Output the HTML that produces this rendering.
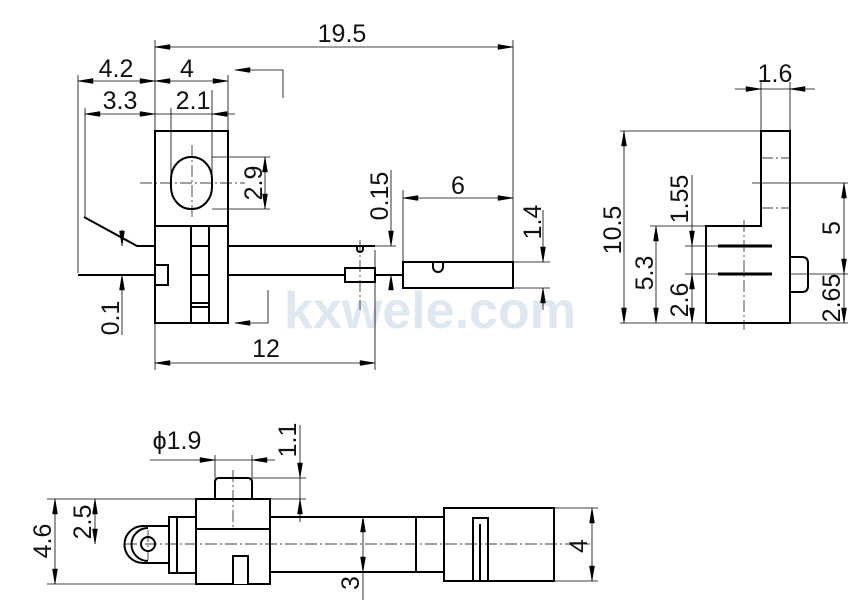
<!DOCTYPE html>
<html><head><meta charset="utf-8"><style>
html,body{margin:0;padding:0;background:#fff}
svg{display:block}
text{font-family:"Liberation Sans",sans-serif;font-size:25px;fill:#111}
</style></head><body>
<svg width="868" height="615" viewBox="0 0 868 615" xmlns="http://www.w3.org/2000/svg">
<text x="430" y="328" text-anchor="middle" style="font-size:52px;fill:#dfe7f1;font-weight:bold">kxwele.com</text>
<g stroke="#000" fill="none" stroke-width="0.8">
<line x1="155" y1="40" x2="155" y2="370"/>
<line x1="513" y1="40" x2="513" y2="262"/>
<line x1="78" y1="75" x2="78" y2="273"/>
<line x1="85" y1="108" x2="85" y2="217"/>
<line x1="228" y1="75" x2="228" y2="131"/>
<line x1="171" y1="108" x2="171" y2="183"/>
<line x1="212" y1="90" x2="212" y2="183"/>
<line x1="375" y1="250" x2="375" y2="370"/>
<line x1="155" y1="47" x2="513" y2="47"/>
<line x1="78" y1="81" x2="228" y2="81"/>
<line x1="85" y1="114" x2="235" y2="114"/>
<polyline points="283,98 283,70 235,70"/>
<polyline points="268,290 268,323 235,323"/>
<line x1="212" y1="157" x2="270" y2="157"/>
<line x1="212" y1="209" x2="270" y2="209"/>
<line x1="265" y1="157" x2="265" y2="209"/>
<line x1="122" y1="230" x2="122" y2="246"/>
<line x1="122" y1="335" x2="122" y2="275"/>
<line x1="155" y1="363" x2="375" y2="363"/>
<line x1="375" y1="246" x2="396" y2="246"/>
<line x1="391" y1="170" x2="391" y2="246"/>
<line x1="391" y1="290" x2="391" y2="275"/>
<line x1="403" y1="190" x2="403" y2="262"/>
<line x1="403" y1="198" x2="513" y2="198"/>
<line x1="513" y1="262" x2="550" y2="262"/>
<line x1="513" y1="288" x2="550" y2="288"/>
<line x1="543" y1="210" x2="543" y2="262"/>
<line x1="543" y1="310" x2="543" y2="288"/>
<line x1="752" y1="183" x2="848" y2="183"/>
<line x1="790" y1="274" x2="848" y2="274"/>
<line x1="761" y1="82" x2="761" y2="131"/>
<line x1="790" y1="82" x2="790" y2="131"/>
<line x1="735" y1="89" x2="815" y2="89"/>
<line x1="620" y1="131" x2="761" y2="131"/>
<line x1="620" y1="323" x2="706" y2="323"/>
<line x1="650" y1="226" x2="706" y2="226"/>
<line x1="685" y1="246" x2="718" y2="246"/>
<line x1="685" y1="274" x2="718" y2="274"/>
<line x1="790" y1="323" x2="848" y2="323"/>
<line x1="624" y1="131" x2="624" y2="323"/>
<line x1="656" y1="226" x2="656" y2="323"/>
<line x1="692" y1="175" x2="692" y2="323"/>
<line x1="844" y1="183" x2="844" y2="323"/>
<line x1="47" y1="499" x2="196" y2="499"/>
<line x1="47" y1="584" x2="196" y2="584"/>
<line x1="215" y1="455" x2="215" y2="478"/>
<line x1="252" y1="455" x2="252" y2="478"/>
<line x1="150" y1="460" x2="275" y2="460"/>
<line x1="252" y1="478" x2="306" y2="478"/>
<line x1="270" y1="499" x2="306" y2="499"/>
<line x1="300" y1="425" x2="300" y2="522"/>
<line x1="95" y1="499" x2="95" y2="544"/>
<line x1="55" y1="499" x2="55" y2="584"/>
<line x1="363" y1="600" x2="363" y2="517"/>
<line x1="554" y1="508" x2="598" y2="508"/>
<line x1="554" y1="581" x2="598" y2="581"/>
<line x1="592" y1="508" x2="592" y2="581"/>
</g>
<g stroke="#000" fill="none" stroke-width="2">
<rect x="155" y="131" width="73" height="192"/>
<line x1="155" y1="226" x2="228" y2="226"/>
<line x1="191" y1="226" x2="191" y2="323"/>
<line x1="209" y1="226" x2="209" y2="323"/>
<rect x="171" y="157" width="41" height="52" rx="20" ry="22"/>
<line x1="191" y1="246" x2="209" y2="246"/>
<line x1="191" y1="275" x2="209" y2="275"/>
<line x1="191" y1="303" x2="209" y2="303"/>
<line x1="191" y1="307" x2="209" y2="307"/>
<polyline points="84,217 137,246 155,246"/>
<line x1="228" y1="246" x2="375" y2="246"/>
<line x1="78" y1="275" x2="155" y2="275"/>
<line x1="228" y1="275" x2="345" y2="275"/>
<path d="M155,265 H168 V285 H155"/>
<rect x="345" y="268" width="30" height="14"/>
<line x1="375" y1="275" x2="403" y2="275"/>
<rect x="403" y="262" width="110" height="26"/>
<path d="M433,262 v5 a5,5 0 0 0 10,0 v-5"/>
<path d="M357,246 v3 a3,3 0 0 0 6,0 v-3"/>
<path d="M761,131 H790 V323 H706 V226 H761 Z"/>
<line x1="718" y1="246" x2="772" y2="246" stroke-width="3"/>
<line x1="718" y1="274" x2="772" y2="274" stroke-width="3"/>
<path d="M790,257 H802 Q808,257 808,263 V286 Q808,292 802,292 H790"/>
<rect x="196" y="499" width="74" height="85"/>
<line x1="196" y1="529" x2="270" y2="529"/>
<path d="M233,584 V556 H248 V584" fill="#fff"/>
<path d="M215,499 V482 Q215,478 219,478 H248 Q252,478 252,482 V499"/>
<rect x="169" y="517" width="27" height="56"/>
<line x1="177" y1="517" x2="177" y2="573"/>
<line x1="143" y1="526" x2="169" y2="526"/>
<line x1="143" y1="563" x2="169" y2="563"/>
<path d="M143,526 A18,18 0 0 0 143,563"/>
<path d="M148,528 A16,16 0 0 0 148,561"/>
<circle cx="148" cy="544" r="7"/>
<line x1="270" y1="517" x2="444" y2="517"/>
<line x1="270" y1="572" x2="444" y2="572"/>
<line x1="416" y1="517" x2="416" y2="572"/>
<rect x="444" y="508" width="110" height="73"/>
<path d="M473,581 V518 H488 V581"/>
<line x1="480" y1="524" x2="480" y2="581"/>
</g>
<g stroke="#000" fill="none" stroke-dasharray="12,3,2,3" stroke-width="0.7">
<line x1="140" y1="183" x2="245" y2="183"/>
<line x1="192" y1="145" x2="192" y2="220"/>
<line x1="360" y1="240" x2="360" y2="310"/>
<line x1="761" y1="158" x2="790" y2="158"/>
<line x1="761" y1="208" x2="790" y2="208"/>
<line x1="744" y1="220" x2="744" y2="330"/>
<line x1="125" y1="544" x2="590" y2="544"/>
<line x1="233" y1="470" x2="233" y2="529"/>
<line x1="148" y1="530" x2="148" y2="560"/>
</g>
<g fill="#000" stroke="#000" stroke-width="0.5">
<polygon points="155,47 170,44.5 170,49.5"/>
<polygon points="513,47 498,44.5 498,49.5"/>
<polygon points="78,81 93,78.5 93,83.5"/>
<polygon points="155,81 140,78.5 140,83.5"/>
<polygon points="155,81 170,78.5 170,83.5"/>
<polygon points="228,81 213,78.5 213,83.5"/>
<polygon points="85,114 100,111.5 100,116.5"/>
<polygon points="155,114 140,111.5 140,116.5"/>
<polygon points="212,114 227,111.5 227,116.5"/>
<polygon points="235,70 250,67.5 250,72.5"/>
<polygon points="235,323 250,320.5 250,325.5"/>
<polygon points="265,157 262.5,172 267.5,172"/>
<polygon points="265,209 262.5,194 267.5,194"/>
<polygon points="122,246 119.5,231 124.5,231"/>
<polygon points="122,275 119.5,290 124.5,290"/>
<polygon points="155,363 170,360.5 170,365.5"/>
<polygon points="375,363 360,360.5 360,365.5"/>
<polygon points="391,246 388.5,231 393.5,231"/>
<polygon points="391,275 388.5,290 393.5,290"/>
<polygon points="403,198 418,195.5 418,200.5"/>
<polygon points="513,198 498,195.5 498,200.5"/>
<polygon points="543,262 540.5,247 545.5,247"/>
<polygon points="543,288 540.5,303 545.5,303"/>
<polygon points="761,89 746,86.5 746,91.5"/>
<polygon points="790,89 805,86.5 805,91.5"/>
<polygon points="624,131 621.5,146 626.5,146"/>
<polygon points="624,323 621.5,308 626.5,308"/>
<polygon points="656,226 653.5,241 658.5,241"/>
<polygon points="656,323 653.5,308 658.5,308"/>
<polygon points="692,246 689.5,231 694.5,231"/>
<polygon points="692,274 689.5,289 694.5,289"/>
<polygon points="692,323 689.5,308 694.5,308"/>
<polygon points="844,183 841.5,198 846.5,198"/>
<polygon points="844,274 841.5,259 846.5,259"/>
<polygon points="844,323 841.5,308 846.5,308"/>
<polygon points="215,460 200,457.5 200,462.5"/>
<polygon points="252,460 267,457.5 267,462.5"/>
<polygon points="300,478 297.5,463 302.5,463"/>
<polygon points="300,499 297.5,514 302.5,514"/>
<polygon points="95,499 92.5,514 97.5,514"/>
<polygon points="95,544 92.5,529 97.5,529"/>
<polygon points="55,499 52.5,514 57.5,514"/>
<polygon points="55,584 52.5,569 57.5,569"/>
<polygon points="363,517 360.5,532 365.5,532"/>
<polygon points="363,572 360.5,557 365.5,557"/>
<polygon points="592,508 589.5,523 594.5,523"/>
<polygon points="592,581 589.5,566 594.5,566"/>
</g>
<text x="342" y="42" text-anchor="middle">19.5</text>
<text x="116" y="77" text-anchor="middle">4.2</text>
<text x="187" y="77" text-anchor="middle">4</text>
<text x="120" y="109" text-anchor="middle">3.3</text>
<text x="193" y="109" text-anchor="middle">2.1</text>
<text x="266" y="357" text-anchor="middle">12</text>
<text x="458" y="194" text-anchor="middle">6</text>
<text x="775" y="82" text-anchor="middle">1.6</text>
<text transform="translate(262,183) rotate(-90)" text-anchor="middle">2.9</text>
<text transform="translate(119,318) rotate(-90)" text-anchor="middle">0.1</text>
<text transform="translate(388,196) rotate(-90)" text-anchor="middle">0.15</text>
<text transform="translate(541,222) rotate(-90)" text-anchor="middle">1.4</text>
<text transform="translate(621,230) rotate(-90)" text-anchor="middle">10.5</text>
<text transform="translate(653,273) rotate(-90)" text-anchor="middle">5.3</text>
<text transform="translate(688,199) rotate(-90)" text-anchor="middle">1.55</text>
<text transform="translate(688,300) rotate(-90)" text-anchor="middle">2.6</text>
<text transform="translate(840,228) rotate(-90)" text-anchor="middle">5</text>
<text transform="translate(840,298) rotate(-90)" text-anchor="middle">2.65</text>
<text x="177" y="449" text-anchor="middle">ϕ1.9</text>
<text transform="translate(296,440) rotate(-90)" text-anchor="middle">1.1</text>
<text transform="translate(91,522) rotate(-90)" text-anchor="middle">2.5</text>
<text transform="translate(51,541) rotate(-90)" text-anchor="middle">4.6</text>
<text transform="translate(359,583) rotate(-90)" text-anchor="middle">3</text>
<text transform="translate(587,546) rotate(-90)" text-anchor="middle">4</text>
</svg>
</body></html>
